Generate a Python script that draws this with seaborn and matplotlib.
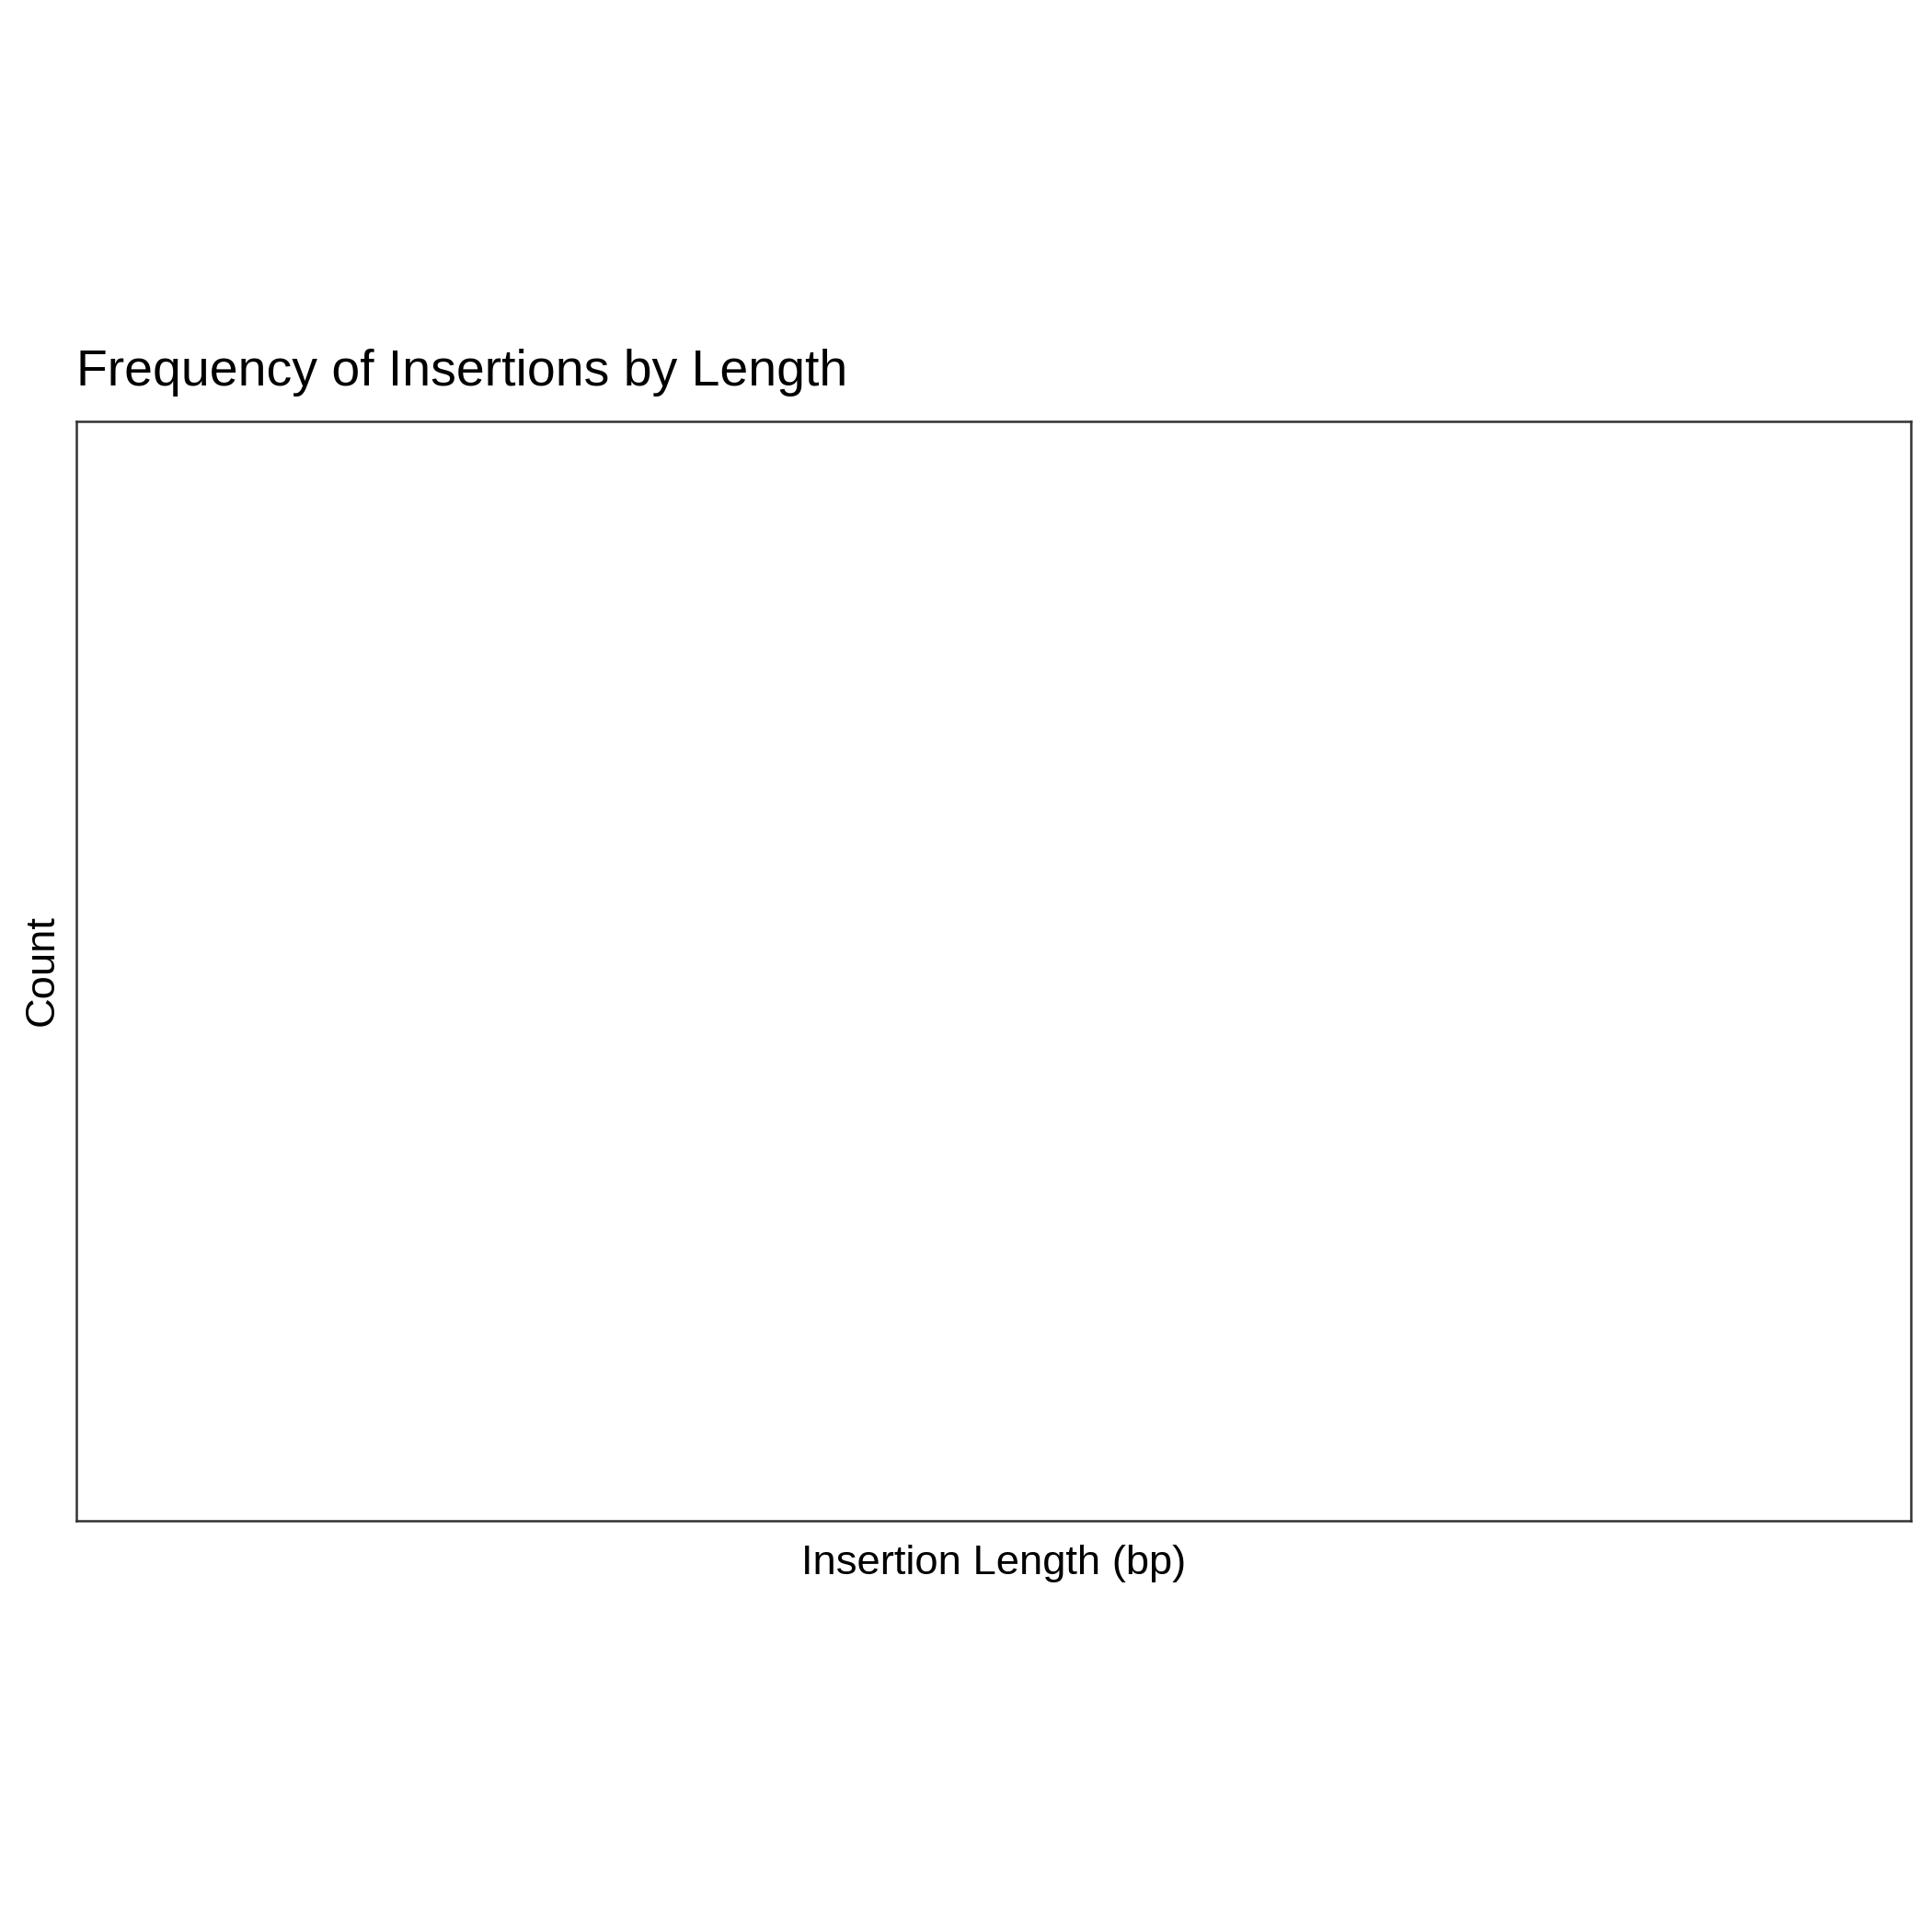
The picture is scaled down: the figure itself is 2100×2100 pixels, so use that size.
import matplotlib
matplotlib.use("Agg")
import matplotlib.pyplot as plt
import seaborn as sns
import pandas as pd

# Data (the reference panel is empty: no insertions plotted)
insertion_lengths = []
title_text = "Frequency of Insertions by Length"
x_label = "Insertion Length (bp)"
y_label = "Count"

sns.set_style("white")
plt.rcParams["font.family"] = ["Liberation Sans", "DejaVu Sans"]

W = H = 2100
dpi = 300
fig = plt.figure(figsize=(W / dpi, H / dpi), dpi=dpi)

left_px, right_px, top_px, bottom_px = 83, 2077, 458, 1653
ax = fig.add_axes([left_px / W, (H - bottom_px) / H,
                   (right_px - left_px) / W, (bottom_px - top_px) / H])

df = pd.DataFrame({"length": pd.Series(insertion_lengths, dtype=float)})
try:
    sns.histplot(data=df, x="length", ax=ax, color="#595959")
except Exception:
    pass

ax.set_xticks([])
ax.set_yticks([])
ax.set_facecolor("white")
for s in ax.spines.values():
    s.set_visible(True)
    s.set_color("#333333")
    s.set_linewidth(0.6)

ax.set_title(title_text, loc="left", fontsize=13.3, color="black", pad=9.4)
ax.set_xlabel(x_label, fontsize=10.9, color="black", va="baseline")
ax.xaxis.set_label_coords(0.5, ((H - 1711) - (H - bottom_px)) / (bottom_px - top_px))
ax.set_ylabel(y_label, fontsize=10.9, color="black", va="baseline", ha="center",
              rotation=90, rotation_mode="anchor")
ax.yaxis.set_label_coords((58 - left_px) / (right_px - left_px),
                          ((H - 1055) - (H - bottom_px)) / (bottom_px - top_px))

fig.savefig("out.png", dpi=dpi, facecolor="white")
